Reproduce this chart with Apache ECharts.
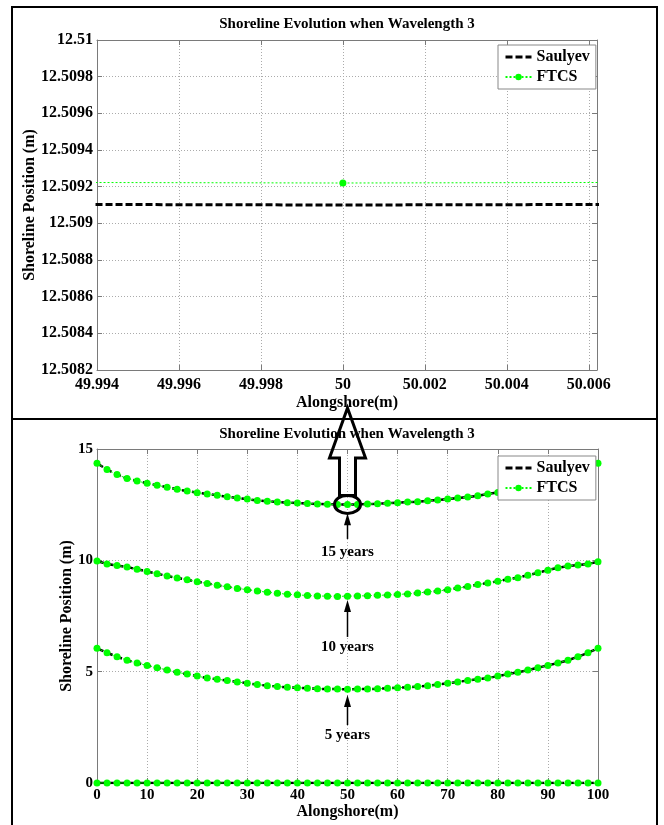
<!DOCTYPE html>
<html>
<head>
<meta charset="utf-8">
<title>Shoreline Evolution when Wavelength 3</title>
<script src="https://cdn.jsdelivr.net/npm/echarts@6/dist/echarts.min.js"></script>
<style>
html, body { margin: 0; padding: 0; background: #fff; }
#chart { width: 664px; height: 825px; }
</style>
</head>
<body>
<div id="chart"></div>
<script>
// alongshore positions (m)
const alongshore = [0, 2, 4, 6, 8, 10, 12, 14, 16, 18, 20, 22, 24, 26, 28, 30, 32, 34, 36, 38, 40, 42, 44, 46, 48, 50,
  52, 54, 56, 58, 60, 62, 64, 66, 68, 70, 72, 74, 76, 78, 80, 82, 84, 86, 88, 90, 92, 94, 96, 98, 100];

// shoreline position (m), Saulyev scheme
const saulyev0 = [0, 0, 0, 0, 0, 0, 0, 0, 0, 0, 0, 0, 0, 0, 0, 0, 0, 0, 0, 0, 0, 0, 0, 0, 0, 0,
  0, 0, 0, 0, 0, 0, 0, 0, 0, 0, 0, 0, 0, 0, 0, 0, 0, 0, 0, 0, 0, 0, 0, 0, 0];
const saulyev5 = [6.05, 5.85, 5.67, 5.51, 5.39, 5.28, 5.18, 5.07, 4.97, 4.89, 4.80, 4.71, 4.66, 4.60, 4.54, 4.48, 4.42, 4.37, 4.33, 4.30, 4.28, 4.25, 4.23, 4.22, 4.22, 4.21,
  4.22, 4.22, 4.23, 4.25, 4.28, 4.30, 4.33, 4.37, 4.42, 4.48, 4.54, 4.60, 4.66, 4.71, 4.80, 4.89, 4.97, 5.07, 5.18, 5.28, 5.39, 5.51, 5.67, 5.85, 6.05];
const saulyev10 = [9.97, 9.84, 9.77, 9.70, 9.60, 9.50, 9.40, 9.30, 9.21, 9.13, 9.04, 8.96, 8.88, 8.81, 8.74, 8.68, 8.62, 8.57, 8.52, 8.48, 8.45, 8.42, 8.40, 8.39, 8.38, 8.39,
  8.40, 8.41, 8.43, 8.44, 8.47, 8.49, 8.53, 8.58, 8.62, 8.68, 8.76, 8.82, 8.91, 8.98, 9.06, 9.15, 9.22, 9.33, 9.44, 9.56, 9.67, 9.74, 9.79, 9.83, 9.94];
const saulyev15 = [14.36, 14.08, 13.85, 13.68, 13.56, 13.46, 13.37, 13.28, 13.19, 13.11, 13.04, 12.98, 12.92, 12.86, 12.80, 12.75, 12.69, 12.65, 12.62, 12.59, 12.57, 12.55, 12.53, 12.52, 12.5100, 12.5091,
  12.5100, 12.53, 12.54, 12.56, 12.59, 12.62, 12.63, 12.68, 12.71, 12.75, 12.80, 12.84, 12.90, 12.98, 13.05, 13.11, 13.19, 13.28, 13.37, 13.46, 13.56, 13.68, 13.85, 14.08, 14.36];

// shoreline position (m), FTCS scheme
const ftcs0 = [0, 0, 0, 0, 0, 0, 0, 0, 0, 0, 0, 0, 0, 0, 0, 0, 0, 0, 0, 0, 0, 0, 0, 0, 0, 0,
  0, 0, 0, 0, 0, 0, 0, 0, 0, 0, 0, 0, 0, 0, 0, 0, 0, 0, 0, 0, 0, 0, 0, 0, 0];
const ftcs5 = [6.05, 5.85, 5.67, 5.51, 5.39, 5.28, 5.18, 5.07, 4.97, 4.89, 4.80, 4.71, 4.66, 4.60, 4.54, 4.48, 4.42, 4.37, 4.33, 4.30, 4.28, 4.25, 4.23, 4.22, 4.22, 4.21,
  4.22, 4.22, 4.23, 4.25, 4.28, 4.30, 4.33, 4.37, 4.42, 4.48, 4.54, 4.60, 4.66, 4.71, 4.80, 4.89, 4.97, 5.07, 5.18, 5.28, 5.39, 5.51, 5.67, 5.85, 6.05];
const ftcs10 = [9.97, 9.84, 9.77, 9.70, 9.60, 9.50, 9.40, 9.30, 9.21, 9.13, 9.04, 8.96, 8.88, 8.81, 8.74, 8.68, 8.62, 8.57, 8.52, 8.48, 8.45, 8.42, 8.40, 8.39, 8.38, 8.39,
  8.40, 8.41, 8.43, 8.44, 8.47, 8.49, 8.53, 8.58, 8.62, 8.68, 8.76, 8.82, 8.91, 8.98, 9.06, 9.15, 9.22, 9.33, 9.44, 9.56, 9.67, 9.74, 9.79, 9.83, 9.94];
const ftcs15 = [14.36, 14.08, 13.85, 13.68, 13.56, 13.46, 13.37, 13.28, 13.19, 13.11, 13.04, 12.98, 12.92, 12.86, 12.80, 12.75, 12.69, 12.65, 12.62, 12.59, 12.57, 12.55, 12.53, 12.52, 12.5101, 12.50922,
  12.5101, 12.53, 12.54, 12.56, 12.59, 12.62, 12.63, 12.68, 12.71, 12.75, 12.80, 12.84, 12.90, 12.98, 13.05, 13.11, 13.19, 13.28, 13.37, 13.46, 13.56, 13.68, 13.85, 14.08, 14.36];

// axis ranges and ticks
const zoomX = [49.994, 50.0062], zoomXStep = 0.002;
const zoomY = [12.5082, 12.51], zoomYStep = 0.0002;
const fullX = [0, 100], fullXStep = 10;
const fullY = [0, 15], fullYStep = 5;

const FONT = 'Liberation Serif';
const GREEN = '#00ff00';
const AXIS_GREY = '#7a7a7a';
const GRID_GREY = '#ababab';

const chart = echarts.init(document.getElementById('chart'));

function pairs(ys, lo, hi) {
  const out = [];
  alongshore.forEach((x, i) => {
    if (x >= lo && x <= hi) out.push([x, ys[i]]);
  });
  return out;
}

function tickFmt(step) {
  return v => {
    const k = Math.round(v / step);
    return Math.abs(v - k * step) < step * 1e-3 ? String(+(k * step).toFixed(4)) : '';
  };
}

function saulyev(ys, axis, width, lo, hi) {
  return {
    type: 'line', name: 'Saulyev', xAxisIndex: axis, yAxisIndex: axis,
    data: pairs(ys, lo, hi), symbol: 'none', z: 2,
    lineStyle: { color: '#000', width: width, type: [7, 3] },
    itemStyle: { color: '#000' }
  };
}

function ftcs(ys, axis, lo, hi) {
  return {
    type: 'line', name: 'FTCS', xAxisIndex: axis, yAxisIndex: axis,
    data: pairs(ys, lo, hi), symbol: 'circle', symbolSize: 7, showAllSymbol: true, z: 3,
    lineStyle: { color: GREEN, width: 1, type: [2, 2] },
    itemStyle: { color: GREEN }
  };
}

// main axis (with labels) + the opposite side of the box
function axisPair(grid, pos, opp, range, step, fontSize, margin, name, nameGap) {
  const common = {
    type: 'value', gridIndex: grid, min: range[0], max: range[1], interval: step,
    axisLine: { show: true, onZero: false, lineStyle: { color: AXIS_GREY, width: 1 } },
    axisTick: { show: true, inside: true, length: 5, lineStyle: { color: AXIS_GREY } }
  };
  return [
    Object.assign({}, common, {
      position: pos,
      axisLabel: { show: true, margin: margin, fontFamily: FONT, fontWeight: 'bold', fontSize: fontSize, color: '#000', formatter: tickFmt(step) },
      splitLine: { show: true, lineStyle: { color: GRID_GREY, width: 1, type: [1, 2] } },
      name: name, nameLocation: 'middle', nameGap: nameGap, nameMoveOverlap: false,
      nameTextStyle: { fontFamily: FONT, fontWeight: 'bold', fontSize: 16, color: '#000' }
    }),
    Object.assign({}, common, {
      position: opp,
      axisLabel: { show: false },
      splitLine: { show: false }
    })
  ];
}

function legendAt(top) {
  return {
    data: [{ name: 'Saulyev', itemStyle: { opacity: 0 }, lineStyle: { width: 3 } }, 'FTCS'],
    orient: 'vertical', left: 498, top: top,
    padding: [4, 6, 4, 6], itemGap: 4, itemWidth: 26, itemHeight: 8,
    backgroundColor: '#fff', borderColor: '#888', borderWidth: 1,
    selectedMode: false,
    textStyle: { fontFamily: FONT, fontWeight: 'bold', fontSize: 16, color: '#000' }
  };
}

function titleAt(top) {
  return {
    text: 'Shoreline Evolution when Wavelength 3', left: 347, top: top, textAlign: 'center', padding: 0,
    textStyle: { fontFamily: FONT, fontWeight: 'bold', fontSize: 15, color: '#000' }
  };
}

const xTop = axisPair(0, 'bottom', 'top', zoomX, zoomXStep, 16, 7, 'Alongshore(m)', 25);
const yTop = axisPair(0, 'left', 'right', zoomY, zoomYStep, 16, 4, 'Shoreline Position (m)', 59);
const xBot = axisPair(1, 'bottom', 'top', fullX, fullXStep, 15, 5, 'Alongshore(m)', 21);
const yBot = axisPair(1, 'left', 'right', fullY, fullYStep, 15, 4, 'Shoreline Position (m)', 22);

chart.setOption({
  animation: false,
  backgroundColor: '#fff',
  title: [titleAt(17), titleAt(427)],
  legend: [legendAt(45), legendAt(456)],
  grid: [
    { left: 97, top: 40, width: 500, height: 330, outerBoundsMode: 'none' },
    { left: 97, top: 449, width: 501, height: 334, outerBoundsMode: 'none' }
  ],
  xAxis: [xTop[0], xTop[1], xBot[0], xBot[1]],
  yAxis: [yTop[0], yTop[1], yBot[0], yBot[1]],
  series: [
    saulyev(saulyev15, 0, 3, 48, 52),
    ftcs(ftcs15, 0, 48, 52),
    saulyev(saulyev0, 2, 2.5, 0, 100),
    saulyev(saulyev5, 2, 2.5, 0, 100),
    saulyev(saulyev10, 2, 2.5, 0, 100),
    saulyev(saulyev15, 2, 2.5, 0, 100),
    ftcs(ftcs0, 2, 0, 100),
    ftcs(ftcs5, 2, 0, 100),
    ftcs(ftcs10, 2, 0, 100),
    ftcs(ftcs15, 2, 0, 100)
  ]
});

// annotations placed from data coordinates
const toBot = p => chart.convertToPixel({ seriesIndex: 2 }, p);
const toTop = p => chart.convertToPixel({ seriesIndex: 0 }, p);

const notes = [
  { text: '15 years', x: 50, label: 10.37, tail: 10.96, head: 12.12 },
  { text: '10 years', x: 50, label: 6.11, tail: 6.56, head: 8.22 },
  { text: '5 years', x: 50, label: 2.16, tail: 2.60, head: 3.95 }
];

const graphics = [
  { type: 'rect', shape: { x: 12, y: 7, width: 645, height: 840 }, style: { fill: 'none', stroke: '#000', lineWidth: 2 }, z: 100 },
  { type: 'line', shape: { x1: 12, y1: 419, x2: 657, y2: 419 }, style: { stroke: '#000', lineWidth: 2 }, z: 100 }
];

notes.forEach(n => {
  const lbl = toBot([n.x, n.label]);
  const tail = toBot([n.x, n.tail]);
  const tip = toBot([n.x, n.head]);
  graphics.push(
    { type: 'text', z: 100, style: { text: n.text, x: lbl[0], y: lbl[1], align: 'center', verticalAlign: 'middle', font: 'bold 15px "' + FONT + '"', fill: '#000' } },
    { type: 'line', z: 100, shape: { x1: tail[0], y1: tail[1], x2: tip[0], y2: tip[1] + 8 }, style: { stroke: '#000', lineWidth: 1.5 } },
    { type: 'polygon', z: 100, shape: { points: [[tip[0], tip[1]], [tip[0] - 3.5, tip[1] + 12], [tip[0] + 3.5, tip[1] + 12]] }, style: { fill: '#000' } }
  );
});

// ellipse round the 15-year minimum and the hollow arrow to the zoomed panel
const mid = toBot([50, ftcs15[25]]);
const rx = 13, ry = 9;
const axisBottom = toTop([50, zoomY[0]])[1];
const tipY = axisBottom + 38, baseY = tipY + 50, topOfRing = mid[1] - ry;
graphics.push(
  { type: 'ellipse', z: 100, shape: { cx: mid[0], cy: mid[1], rx: rx, ry: ry }, style: { fill: 'none', stroke: '#000', lineWidth: 3 } },
  { type: 'polygon', z: 100, shape: { points: [
      [mid[0], tipY], [mid[0] + 18, baseY], [mid[0] + 8, baseY], [mid[0] + 8, topOfRing],
      [mid[0] - 8, topOfRing], [mid[0] - 8, baseY], [mid[0] - 18, baseY]
    ] }, style: { fill: 'none', stroke: '#000', lineWidth: 3, lineJoin: 'miter' } }
);

chart.setOption({ graphic: graphics });
</script>
</body>
</html>
